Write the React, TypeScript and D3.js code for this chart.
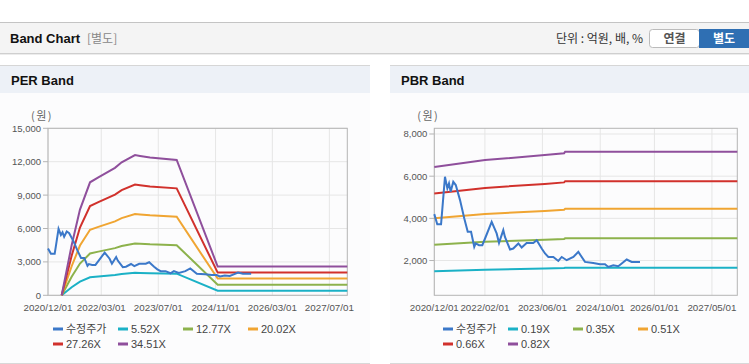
import React from "react";
import * as d3 from "d3";

// ---------- DATA ----------
const priceDates = [
  "2020-12-01","2020-12-26","2021-01-27","2021-02-06","2021-03-01","2021-03-21","2021-04-04","2021-04-18",
  "2021-05-10","2021-05-31","2021-07-06","2021-08-11","2021-09-09","2021-10-07","2021-11-03","2021-11-15",
  "2021-12-13","2022-01-10","2022-02-02","2022-03-30","2022-05-11","2022-05-31","2022-07-06","2022-07-20",
  "2022-09-01","2022-09-28","2022-11-10","2022-12-08","2023-01-19","2023-03-16","2023-04-14","2023-05-26",
  "2023-06-23","2023-07-21","2023-09-01","2023-10-13","2023-11-11","2023-12-23","2024-02-17","2024-03-30",
  "2024-05-25","2024-08-03","2024-09-29","2024-11-10","2024-12-08","2025-01-19","2025-03-02","2025-03-31",
  "2025-05-12","2025-06-23","2025-09-01",
];
const priceValues = [
  4200, 3725, 3725, 4390, 5970, 5420, 5660, 5260,
  5735, 5580, 4865, 3995, 3360, 3360, 2650, 2810,
  2730, 2730, 3045, 3835, 3285, 2835, 3440, 3120,
  2525, 2570, 2810, 2620, 2835, 2835, 2965, 2570,
  2335, 2170, 2170, 1980, 2170, 2015, 2170, 2410,
  1935, 1885, 1825, 1825, 1695, 1775, 1730, 1860,
  2050, 1935, 1935,
];

const perBandDates = [
  "2021-03-28","2021-06-21","2021-08-31","2021-11-25","2022-02-04","2022-06-26","2022-08-22",
  "2022-12-14","2023-01-26","2023-04-21","2023-12-05","2024-11-19","2027-12-01",
];
const per552 = [0, 720, 1232, 1624, 1696, 1832, 1912, 2016, 2003, 1981, 1946, 414, 414];
const per1277 = [0, 1665, 2849, 3756, 3922, 4237, 4422, 4662, 4632, 4581, 4499, 956, 956];
const per2002 = [0, 2610, 4467, 5888, 6149, 6642, 6932, 7309, 7263, 7182, 7054, 1500, 1500];
const per2726 = [0, 3555, 6083, 8019, 8374, 9046, 9441, 9954, 9891, 9780, 9606, 2042, 2042];
const per3451 = [0, 4500, 7700, 10150, 10600, 11450, 11950, 12600, 12520, 12380, 12160, 2585, 2585];

const pbrBandDates = ["2020-12-01", "2022-02-02", "2023-06-21", "2023-12-01", "2023-12-10", "2027-12-01"];
const pbr019 = [1492, 1568, 1622, 1643, 1659, 1659];
const pbr035 = [2749, 2888, 2988, 3026, 3056, 3056];
const pbr051 = [4006, 4208, 4354, 4409, 4453, 4453];
const pbr066 = [5184, 5445, 5634, 5706, 5763, 5763];
const pbr082 = [6440, 6765, 7000, 7090, 7160, 7160];

const perLegend = ["수정주가", "5.52X", "12.77X", "20.02X", "27.26X", "34.51X"];
const pbrLegend = ["수정주가", "0.19X", "0.35X", "0.51X", "0.66X", "0.82X"];

const perYTicks = [0, 3000, 6000, 9000, 12000, 15000];
const pbrYTicks = [2000, 4000, 6000, 8000];
const perXTicks = ["2020-12-01", "2022-03-01", "2023-07-01", "2024-11-01", "2026-03-01", "2027-07-01"];
const pbrXTicks = ["2020-12-01", "2022-02-01", "2023-06-01", "2024-10-01", "2026-01-01", "2027-05-01"];

const xDomain = ["2020-12-01", "2027-12-01"];

const COLORS = ["#3b78c9", "#1bb1c6", "#8db24c", "#f0a532", "#d1312c", "#8f4f9c"];

const FONT = "'Liberation Sans', Arial, 'Noto Sans CJK KR', sans-serif";
const KFONT = "'Noto Sans CJK KR', 'Liberation Sans', sans-serif";

const toD = (s: string) => new Date(s + "T00:00:00Z");
const fmtTick = d3.utcFormat("%Y/%m/%d");

type ChartProps = {
  panelX: number;
  panelW: number;
  title: string;
  x0: number;
  x1: number;
  yDomain: [number, number];
  yTicks: number[];
  xTicks: string[];
  bandDates: string[];
  bands: number[][];
  legend: string[];
  legendX: number;
};

function BandPanel(p: ChartProps) {
  const top = 128.3;
  const bottom = 295.3;
  const x = d3.scaleUtc().domain(xDomain.map(toD)).range([p.x0, p.x1]);
  const y = d3.scaleLinear().domain(p.yDomain).range([bottom, top]);
  const line = d3
    .line<[Date, number]>()
    .x((d) => x(d[0]))
    .y((d) => y(d[1]));
  const priceData: [Date, number][] = priceDates.map((d, i) => [toD(d), priceValues[i]]);
  const bandPaths = p.bands.map((vals) =>
    line(p.bandDates.map((d, i) => [toD(d), vals[i]] as [Date, number]))
  );
  return (
    <g>
      <rect x={p.panelX} y={65} width={p.panelW} height={28} fill="#edf1f7" />
      <line x1={p.panelX} x2={p.panelX + p.panelW} y1={65.5} y2={65.5} stroke="#d6d6d6" />
      <rect x={p.panelX} y={93} width={p.panelW} height={270} fill="#fcfcfd" />
      <line x1={p.panelX} x2={p.panelX + p.panelW} y1={363.5} y2={363.5} stroke="#d8d8d8" />
      <text x={p.panelX + 11} y={85} fontFamily={FONT} fontWeight="bold" fontSize={13} fill="#111">
        {p.title}
      </text>
      <text x={p.x0 - 6} y={120} textAnchor="middle" fontFamily={KFONT} fontSize={11} fill="#666" letterSpacing={1.5}>
        (원)
      </text>
      {/* grid */}
      {p.yTicks.map((t) => (
        <line key={"gy" + t} x1={p.x0} x2={p.x1} y1={y(t)} y2={y(t)} stroke="#e6e6e6" />
      ))}
      {p.xTicks.map((t) => (
        <line key={"gx" + t} x1={x(toD(t))} x2={x(toD(t))} y1={top} y2={bottom} stroke="#e6e6e6" />
      ))}
      <rect x={p.x0} y={top} width={p.x1 - p.x0} height={bottom - top} fill="none" stroke="#b4b4b4" />
      {p.yTicks.map((t) => (
        <g key={"ty" + t}>
          <line x1={p.x0 - 5} x2={p.x0} y1={y(t)} y2={y(t)} stroke="#b4b4b4" />
          <text x={p.x0 - 7} y={y(t) + 3.5} textAnchor="end" fontFamily={FONT} fontSize={9.5} fill="#555">
            {d3.format(",")(t)}
          </text>
        </g>
      ))}
      {p.xTicks.map((t) => (
        <text
          key={"tx" + t}
          x={x(toD(t))}
          y={311}
          textAnchor="middle"
          fontFamily={FONT}
          fontSize={9.8}
          fill="#555"
        >
          {fmtTick(toD(t))}
        </text>
      ))}
      {/* bands */}
      {bandPaths.map((d, i) => (
        <path key={"b" + i} d={d || ""} fill="none" stroke={COLORS[i + 1]} strokeWidth={2} />
      ))}
      <path d={line(priceData) || ""} fill="none" stroke={COLORS[0]} strokeWidth={2} />
      {/* legend */}
      {p.legend.map((name, i) => {
        const lx = p.legendX + (i % 4) * 65;
        const ly = 329 + Math.floor(i / 4) * 15;
        return (
          <g key={"l" + i}>
            <line x1={lx} x2={lx + 10} y1={ly} y2={ly} stroke={COLORS[i]} strokeWidth={3} />
            <text x={lx + 13} y={ly + 4} fontFamily={i === 0 ? KFONT : FONT} fontSize={11} fill="#444">
              {name}
            </text>
          </g>
        );
      })}
    </g>
  );
}

export default function App() {
  return (
    <div style={{ position: "absolute", left: 0, top: 0 }}>
      <svg width={749} height={364} style={{ display: "block" }}>
        <rect width={749} height={364} fill="#fff" />
        {/* top bar */}
        <rect x={0} y={22} width={749} height={31} fill="#f4f4f4" />
        <line x1={0} x2={749} y1={22.5} y2={22.5} stroke="#c4c4c4" />
        <line x1={0} x2={749} y1={53.5} y2={53.5} stroke="#cfcfcf" />
        <line x1={0} x2={749} y1={54.5} y2={54.5} stroke="#ececec" />
        <text x={10} y={43} fontFamily={FONT} fontWeight="bold" fontSize={13} fill="#111">
          Band Chart
        </text>
        <text x={87} y={43} fontFamily={KFONT} fontSize={12} fill="#888">
          [별도]
        </text>
        <text x={643} y={43} textAnchor="end" fontFamily={KFONT} fontSize={12} fill="#333">
          단위 : 억원, 배, %
        </text>
        <rect x={649.5} y={29.5} width={50} height={18} rx={3} fill="#fff" stroke="#bbb" />
        <text x={674.5} y={43} textAnchor="middle" fontFamily={KFONT} fontWeight="bold" fontSize={12} fill="#555">
          연결
        </text>
        <rect x={699} y={29} width={50} height={19} fill="#2f6fb3" />
        <text x={724} y={43} textAnchor="middle" fontFamily={KFONT} fontWeight="bold" fontSize={12} fill="#fff">
          별도
        </text>

        <BandPanel
          panelX={0}
          panelW={370}
          title="PER Band"
          x0={48}
          x1={347.3}
          yDomain={[0, 15000]}
          yTicks={perYTicks}
          xTicks={perXTicks}
          bandDates={perBandDates}
          bands={[per552, per1277, per2002, per2726, per3451]}
          legend={perLegend}
          legendX={53}
        />
        <BandPanel
          panelX={390}
          panelW={359}
          title="PBR Band"
          x0={434.3}
          x1={737.3}
          yDomain={[352, 8270]}
          yTicks={pbrYTicks}
          xTicks={pbrXTicks}
          bandDates={pbrBandDates}
          bands={[pbr019, pbr035, pbr051, pbr066, pbr082]}
          legend={pbrLegend}
          legendX={443}
        />
      </svg>
    </div>
  );
}
